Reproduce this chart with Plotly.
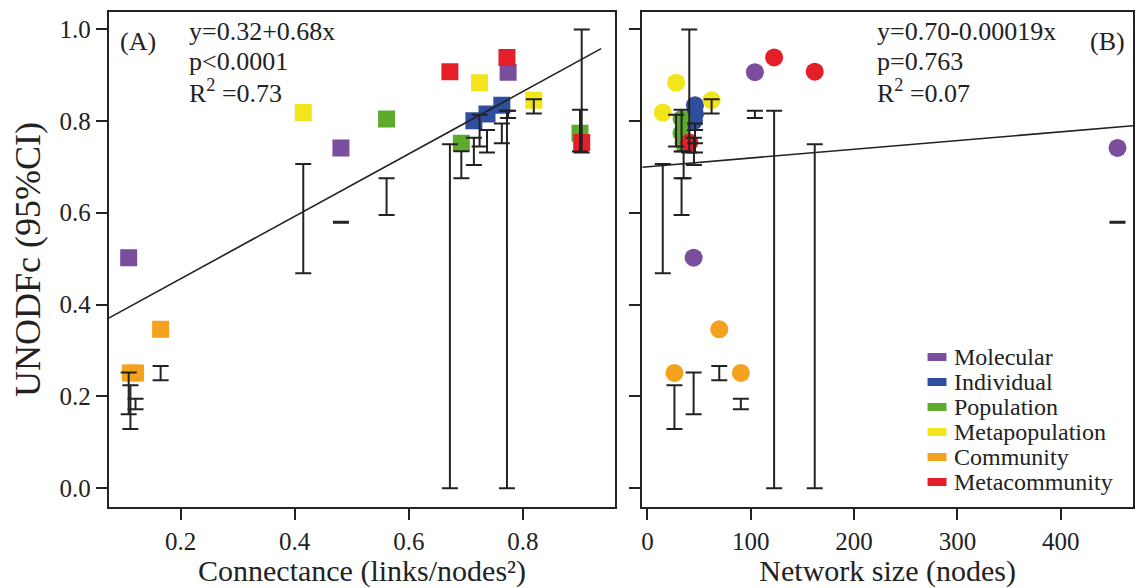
import plotly.graph_objects as go

# ---- data (one entry per network) ----
levels = ["Molecular", "Individual", "Population", "Metapopulation", "Community", "Metacommunity"]
colors = {"Molecular": "#7B4D9D", "Individual": "#2F4E9F", "Population": "#5DAA2D",
          "Metapopulation": "#F2E51B", "Community": "#F4A21E", "Metacommunity": "#E51F2A"}

net_level = ["Molecular", "Molecular", "Molecular",
             "Individual", "Individual", "Individual",
             "Population", "Population", "Population",
             "Metapopulation", "Metapopulation", "Metapopulation",
             "Community", "Community", "Community",
             "Metacommunity", "Metacommunity", "Metacommunity"]
connectance = [0.109, 0.481, 0.774,
               0.714, 0.737, 0.763,
               0.561, 0.692, 0.900,
               0.415, 0.724, 0.819,
               0.112, 0.121, 0.165,
               0.672, 0.772, 0.903]
net_size = [44.7, 455, 104,
            45, 46, 46,
            33, 35, 33,
            14.8, 27.7, 62.1,
            26.1, 90.4, 69.5,
            161.9, 122.6, 40.5]
unodfc = [0.502, 0.741, 0.906,
          0.800, 0.815, 0.834,
          0.804, 0.751, 0.773,
          0.818, 0.883, 0.845,
          0.251, 0.251, 0.346,
          0.907, 0.938, 0.753]
ci_low = [0.161, 0.578, 0.806,
          0.704, 0.731, 0.751,
          0.595, 0.675, 0.733,
          0.468, 0.744, 0.816,
          0.129, 0.172, 0.235,
          0.000, 0.000, 0.731]
ci_high = [0.252, 0.580, 0.822,
           0.763, 0.780, 0.794,
           0.675, 0.734, 0.824,
           0.706, 0.813, 0.847,
           0.224, 0.195, 0.266,
           0.749, 0.822, 0.999]

fit_a = {"intercept": 0.32, "slope": 0.68, "x": [0.074, 0.937]}
fit_b = {"intercept": 0.70, "slope": 0.00019, "x": [-5, 470]}

stats_a = ["y=0.32+0.68x", "p<0.0001", "R<sup>2</sup> =0.73"]
stats_b = ["y=0.70-0.00019x", "p=0.763", "R<sup>2</sup> =0.07"]

FONT = "Liberation Serif, Times New Roman, serif"
INK = "#222222"
W, H = 1135, 588

fig = go.Figure()

# points
for panel, xs, sym, size, xa, ya in [("A", connectance, "square", 17, "x", "y"),
                                      ("B", net_size, "circle", 18, "x2", "y2")]:
    for lev in levels:
        idx = [i for i, l in enumerate(net_level) if l == lev]
        fig.add_trace(go.Scatter(
            x=[xs[i] for i in idx], y=[unodfc[i] for i in idx],
            mode="markers", xaxis=xa, yaxis=ya, showlegend=False,
            marker=dict(symbol=sym, size=size, color=colors[lev], line=dict(width=0)),
        ))
    # confidence intervals
    mids = [(lo + hi) / 2 for lo, hi in zip(ci_low, ci_high)]
    fig.add_trace(go.Scatter(
        x=xs, y=mids, mode="markers", xaxis=xa, yaxis=ya, showlegend=False,
        marker=dict(size=1, opacity=0),
        error_y=dict(type="data", symmetric=False,
                     array=[hi - m for hi, m in zip(ci_high, mids)],
                     arrayminus=[m - lo for lo, m in zip(ci_low, mids)],
                     color=INK, thickness=2, width=8),
    ))

# regression lines
for fit, xa, ya in [(fit_a, "x", "y"), (fit_b, "x2", "y2")]:
    fig.add_trace(go.Scatter(
        x=fit["x"], y=[fit["intercept"] + fit["slope"] * v for v in fit["x"]],
        mode="lines", xaxis=xa, yaxis=ya, showlegend=False,
        line=dict(color=INK, width=1.6),
    ))

axis_common = dict(showgrid=False, zeroline=False, showline=True, mirror=True,
                   linecolor=INK, linewidth=2, ticks="outside", ticklen=11,
                   tickwidth=2, tickcolor=INK,
                   tickfont=dict(family=FONT, size=25, color=INK))

annotations = [
    dict(text="(A)", x=117 / W, y=1 - 42 / H, xanchor="left"),
    dict(text="(B)", x=1129 / W, y=1 - 42 / H, xanchor="right"),
]
for k, (ta, tb) in enumerate(zip(stats_a, stats_b)):
    yk = 1 - (31 + 30.5 * k) / H
    annotations.append(dict(text=ta, x=186 / W, y=yk, xanchor="left"))
    annotations.append(dict(text=tb, x=876 / W, y=yk, xanchor="left"))
for a in annotations:
    a.update(xref="paper", yref="paper", yanchor="middle", showarrow=False,
             font=dict(family=FONT, size=26, color=INK))

# legend (drawn manually to match the compact row spacing)
shapes = []
for k, lev in enumerate(levels):
    yk = 1 - (357 + 25 * k) / H
    shapes.append(dict(type="line", xref="paper", yref="paper",
                       x0=929 / W, x1=948 / W, y0=yk, y1=yk,
                       line=dict(color=colors[lev], width=8)))
    annotations.append(dict(text=lev, x=954 / W, y=yk, xref="paper", yref="paper",
                            xanchor="left", yanchor="middle", showarrow=False,
                            font=dict(family=FONT, size=24, color=INK)))

fig.update_layout(
    width=W, height=H, autosize=False, showlegend=False,
    margin=dict(l=0, r=0, t=0, b=0),
    paper_bgcolor="white", plot_bgcolor="white",
    font=dict(family=FONT, color=INK),
    xaxis=dict(domain=[108 / W, 616 / W], range=[0.074, 0.962],
               tickvals=[0.2, 0.4, 0.6, 0.8], tickformat=".1f",
               title=dict(text="Connectance (links/nodes²)",
                          font=dict(family=FONT, size=30, color=INK), standoff=5),
               **axis_common),
    yaxis=dict(domain=[81 / H, 576 / H], range=[-0.041, 1.037],
               tickvals=[0, 0.2, 0.4, 0.6, 0.8, 1.0], tickformat=".1f",
               title=dict(text="UNODFc (95%CI)",
                          font=dict(family=FONT, size=36, color=INK), standoff=8),
               **axis_common),
    xaxis2=dict(domain=[643 / W, 1.0], range=[-5, 470], anchor="y2",
                tickvals=[0, 100, 200, 300, 400],
                title=dict(text="Network size (nodes)",
                           font=dict(family=FONT, size=30, color=INK), standoff=5),
                **axis_common),
    yaxis2=dict(domain=[81 / H, 576 / H], range=[-0.041, 1.037], anchor="x2",
                tickvals=[0, 0.2, 0.4, 0.6, 0.8, 1.0], showticklabels=False,
                **axis_common),
    annotations=annotations,
    shapes=shapes,
)

fig.write_html("out.html")
